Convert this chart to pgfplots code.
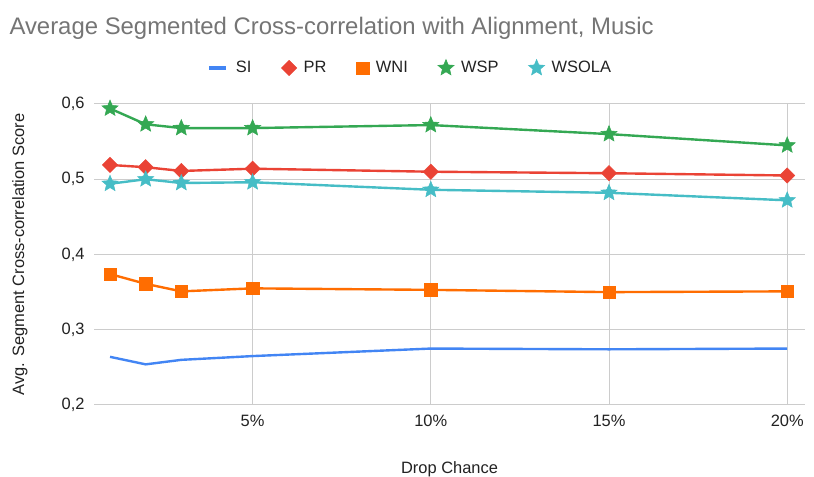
\documentclass[border=0pt]{standalone}
\usepackage{pgfplots}
\pgfplotsset{compat=1.18}
\usepackage{fontspec}
\setmainfont{Liberation Sans}
\definecolor{cSI}{HTML}{4285F4}
\definecolor{cPR}{HTML}{EA4335}
\definecolor{cWNI}{HTML}{FF6D01}
\definecolor{cWSP}{HTML}{34A853}
\definecolor{cWSOLA}{HTML}{46BDC6}
\definecolor{ctitle}{HTML}{757575}
\definecolor{cgrid}{HTML}{CCCCCC}
\definecolor{ctext}{HTML}{222222}
\pgfdeclareplotmark{fstar}{%
  \pgfpathmoveto{\pgfpointpolar{90}{\pgfplotmarksize}}%
  \pgfpathlineto{\pgfpointpolar{126}{0.45\pgfplotmarksize}}%
  \pgfpathlineto{\pgfpointpolar{162}{\pgfplotmarksize}}%
  \pgfpathlineto{\pgfpointpolar{198}{0.45\pgfplotmarksize}}%
  \pgfpathlineto{\pgfpointpolar{234}{\pgfplotmarksize}}%
  \pgfpathlineto{\pgfpointpolar{270}{0.45\pgfplotmarksize}}%
  \pgfpathlineto{\pgfpointpolar{306}{\pgfplotmarksize}}%
  \pgfpathlineto{\pgfpointpolar{342}{0.45\pgfplotmarksize}}%
  \pgfpathlineto{\pgfpointpolar{18}{\pgfplotmarksize}}%
  \pgfpathlineto{\pgfpointpolar{54}{0.45\pgfplotmarksize}}%
  \pgfpathclose
  \pgfusepathqfillstroke}
\begin{document}
\begin{tikzpicture}[x=1bp,y=1bp]
\useasboundingbox[fill=white] (0,0) rectangle (814,477);
\node[anchor=west,text=ctitle,font=\fontsize{24}{28}\selectfont] at (6,449) {Average Segmented Cross-correlation with Alignment, Music};
\begin{axis}[
  at={(94bp,72bp)}, anchor=south west,
  scale only axis, width=711bp, height=301bp,
  xmin=0.55, xmax=20.5, ymin=0.2, ymax=0.6,
  axis line style={draw=none},
  xtick={5,10,15,20}, xticklabels={5\%,10\%,15\%,20\%},
  ytick={0.2,0.3,0.4,0.5,0.6},
  yticklabels={{0,2},{0,3},{0,4},{0,5},{0,6}},
  major tick length=0pt,
  xmajorgrids, ymajorgrids,
  grid style={cgrid, line width=1pt},
  tick label style={font=\fontsize{16.5}{19}\selectfont, text=ctext},
  xticklabel style={yshift=-7bp},
  yticklabel style={xshift=-6bp},
  xlabel={Drop Chance}, ylabel={Avg. Segment Cross-correlation Score},
  label style={font=\fontsize{16.5}{19}\selectfont, text=ctext},
  xlabel style={at={(axis description cs:0.5,0)}, anchor=north, yshift=-53bp},
  ylabel style={at={(axis description cs:0,0.5)}, anchor=south, yshift=63bp},
  legend style={at={(316bp,337bp)}, anchor=center, draw=none, fill=none,
    legend columns=-1, font=\fontsize{16.5}{19}\selectfont, text=ctext,
    /tikz/every odd column/.append style={column sep=5bp},
    /tikz/every even column/.append style={column sep=28bp}},
  every axis plot/.append style={line width=2.4pt},
  clip=false,
]
\addplot[cSI, mark=none, legend image code/.code={\draw[cSI, line width=5pt] (0bp,0bp) -- (17bp,0bp);}] coordinates {(1,0.264) (2,0.254) (3,0.260) (5,0.265) (10,0.275) (15,0.274) (20,0.275)};
\addlegendentry{SI}
\addplot[cPR, mark=square*, mark size=5.4bp, mark options={rotate=45, line width=0.5pt}, legend image code/.code={\draw[cPR,mark=square*, mark size=5.4bp, mark options={rotate=45}, line width=0.5pt] plot coordinates {(8.5bp,0bp)};}] coordinates {(1,0.519) (2,0.516) (3,0.511) (5,0.514) (10,0.510) (15,0.508) (20,0.505)};
\addlegendentry{PR}
\addplot[cWNI, mark=square*, mark size=6.2bp, mark options={line width=0.5pt}, legend image code/.code={\draw[cWNI,mark=square*, mark size=6.2bp, line width=0.5pt] plot coordinates {(8.5bp,0bp)};}] coordinates {(1,0.374) (2,0.361) (3,0.351) (5,0.355) (10,0.353) (15,0.350) (20,0.351)};
\addlegendentry{WNI}
\addplot[cWSP, mark=fstar, mark size=8.5bp, mark options={line width=0.5pt}, legend image code/.code={\draw[cWSP,mark=fstar, mark size=8.5bp, line width=0.5pt] plot coordinates {(8.5bp,0bp)};}] coordinates {(1,0.594) (2,0.573) (3,0.568) (5,0.568) (10,0.572) (15,0.560) (20,0.545)};
\addlegendentry{WSP}
\addplot[cWSOLA, mark=fstar, mark size=8.5bp, mark options={line width=0.5pt}, legend image code/.code={\draw[cWSOLA,mark=fstar, mark size=8.5bp, line width=0.5pt] plot coordinates {(8.5bp,0bp)};}] coordinates {(1,0.494) (2,0.500) (3,0.495) (5,0.496) (10,0.486) (15,0.482) (20,0.472)};
\addlegendentry{WSOLA}
\end{axis}
\end{tikzpicture}
\end{document}
